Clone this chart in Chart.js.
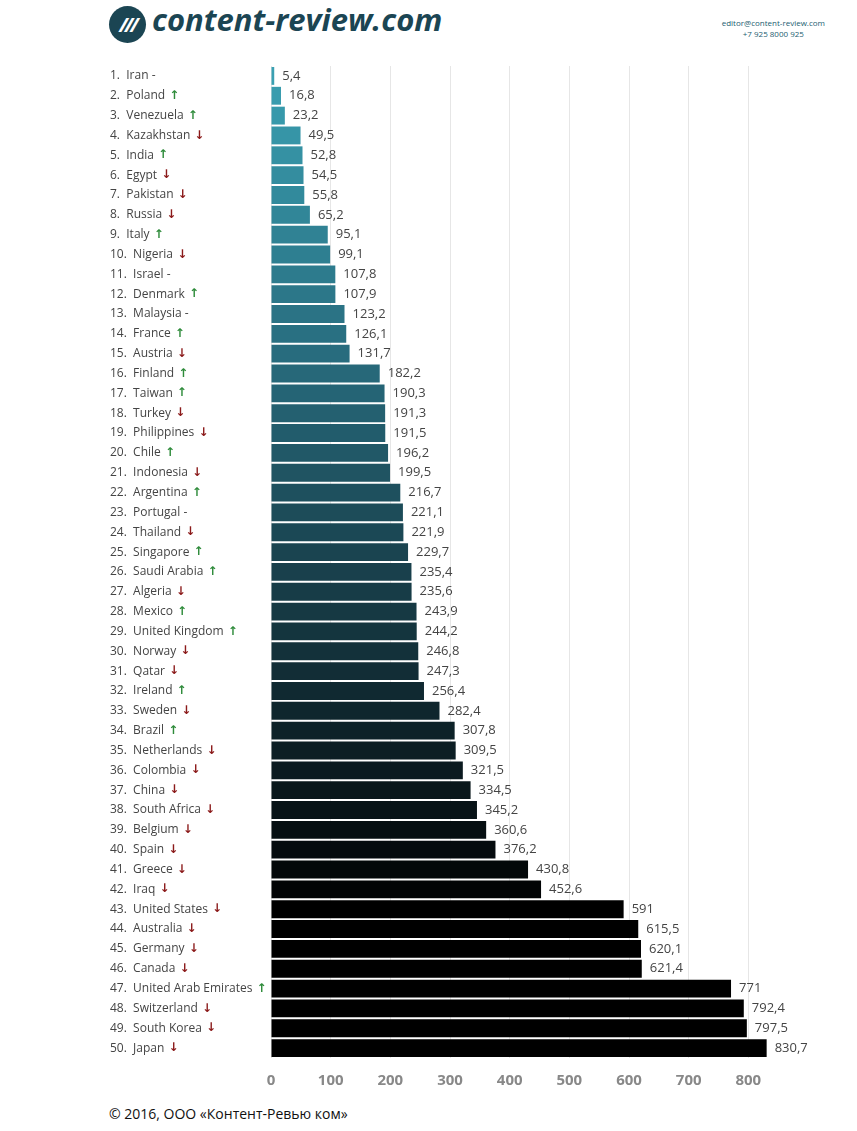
<!DOCTYPE html>
<html>
<head>
<meta charset="utf-8">
<script src="https://cdn.jsdelivr.net/npm/chart.js"></script>
<style>
  body { margin:0; width:857px; height:1131px; background:#fff; position:relative; font-family:"Open Sans", sans-serif; overflow:hidden; }
  #logo { position:absolute; left:109px; top:6px; width:37px; height:37px; border-radius:50%; background:#1b4553; color:#fff; font:bold italic 20px "Open Sans"; text-align:center; line-height:37px; letter-spacing:-3px; }
  #brand { position:absolute; left:152px; top:-2px; font:bold italic 31px "Open Sans", sans-serif; color:#1b4553; letter-spacing:0px; }
  #contact { position:absolute; right:32px; top:17px; font-size:8px; color:#1b5d70; text-align:center; line-height:11px; }
  #wrap { position:absolute; left:100px; top:58px; width:757px; height:1046px; }
  #foot { position:absolute; left:109px; top:1104px; font-size:14px; color:#111; }
</style>
</head>
<body>
<div id="logo">///</div>
<div id="brand">content-review.com</div>
<div id="contact">editor@content-review.com<br>+7 925 8000 925</div>
<div id="wrap"><canvas id="myChart"></canvas></div>
<div id="foot">© 2016, ООО «Контент-Ревью ком»</div>
<script>
const countries = ["Iran","Poland","Venezuela","Kazakhstan","India","Egypt","Pakistan","Russia","Italy","Nigeria",
  "Israel","Denmark","Malaysia","France","Austria","Finland","Taiwan","Turkey","Philippines","Chile",
  "Indonesia","Argentina","Portugal","Thailand","Singapore","Saudi Arabia","Algeria","Mexico","United Kingdom","Norway",
  "Qatar","Ireland","Sweden","Brazil","Netherlands","Colombia","China","South Africa","Belgium","Spain",
  "Greece","Iraq","United States","Australia","Germany","Canada","United Arab Emirates","Switzerland","South Korea","Japan"];
const values = [5.4,16.8,23.2,49.5,52.8,54.5,55.8,65.2,95.1,99.1,
  107.8,107.9,123.2,126.1,131.7,182.2,190.3,191.3,191.5,196.2,
  199.5,216.7,221.1,221.9,229.7,235.4,235.6,243.9,244.2,246.8,
  247.3,256.4,282.4,307.8,309.5,321.5,334.5,345.2,360.6,376.2,
  430.8,452.6,591,615.5,620.1,621.4,771,792.4,797.5,830.7];
const trends = ["-","u","u","d","u","d","d","d","u","d",
  "-","u","-","u","d","u","u","d","d","u",
  "d","u","-","d","u","u","d","u","u","d",
  "d","u","d","u","d","d","d","d","d","d",
  "d","d","d","d","d","d","u","d","d","d"];
const xTicks = [0,100,200,300,400,500,600,700,800];

const stops = [[0,[58,160,178]],[14,[40,108,126]],[24,[26,68,80]],[34,[12,30,36]],[42,[0,0,0]],[49,[0,0,0]]];
function colorAt(i){
  for (let k=0;k<stops.length-1;k++){
    const [a,ca]=stops[k],[b,cb]=stops[k+1];
    if(i>=a&&i<=b){const t=(i-a)/(b-a);return 'rgb('+ca.map((v,j)=>Math.round(v+(cb[j]-v)*t)).join(',')+')';}
  }
  return '#000';
}

const labelPlugin = {
  id:'labels',
  afterDatasetsDraw(chart){
    const ctx=chart.ctx, y=chart.scales.y, x=chart.scales.x;
    ctx.save();
    ctx.textBaseline='middle';
    countries.forEach((c,i)=>{
      const py=y.getPixelForValue(i);
      ctx.font='12px "Open Sans"';
      ctx.fillStyle='#444';
      ctx.textAlign='left';
      const t=(i+1)+'.  '+c+' ';
      ctx.fillText(t,10,py);
      const w=ctx.measureText(t).width;
      if(trends[i]==='-'){ctx.fillStyle='#444';ctx.fillText('-',10+w,py);}
      else {ctx.fillStyle=trends[i]==='u'?'#2e8b3a':'#8b1a1a';ctx.font='bold 12px "DejaVu Sans"';ctx.fillText(trends[i]==='u'?'↑':'↓',10+w+1,py);}
      ctx.font='13px "Open Sans"';
      ctx.fillStyle='#444';
      ctx.fillText(String(values[i]).replace('.',','),x.getPixelForValue(values[i])+8,py);
    });
    ctx.restore();
  }
};

new Chart(document.getElementById('myChart'),{
  type:'bar',
  data:{labels:countries,datasets:[{data:values,backgroundColor:values.map((v,i)=>colorAt(i)),barPercentage:1,categoryPercentage:0.9}]},
  options:{
    indexAxis:'y',responsive:true,maintainAspectRatio:false,animation:false,
    layout:{padding:{left:171,top:8,right:49,bottom:0}},
    plugins:{legend:{display:false},tooltip:{enabled:false}},
    scales:{
      y:{display:false},
      x:{min:0,max:900,
        afterBuildTicks(s){s.ticks=xTicks.map(v=>({value:v}));},
        grid:{color:'#e6e6e6',drawTicks:false},border:{display:false},
        ticks:{color:'#888',padding:14,font:{family:'"Open Sans"',size:15,weight:'bold'}}}
    }
  },
  plugins:[labelPlugin]
});
</script>
</body>
</html>
